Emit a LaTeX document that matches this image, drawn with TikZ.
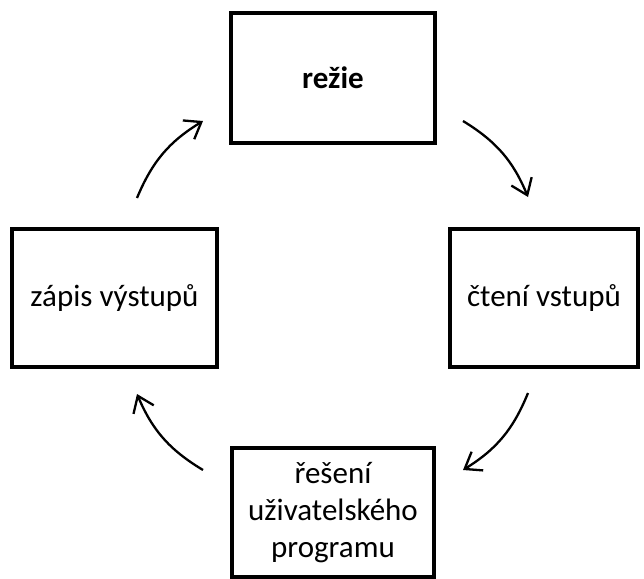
\documentclass[tikz,border=0pt]{standalone}
\usepackage{fontspec}
\setmainfont{Carlito}
\usetikzlibrary{arrows.meta,positioning}

\begin{document}
\begin{tikzpicture}[x=1pt, y=-1pt,
  stage/.style={draw, line width=4pt, align=center, inner sep=0pt,
                font=\fontsize{31}{37}\selectfont},
  cyc/.style={-{Straight Barb[length=15pt, width=22pt, line width=2.3pt]},
              line width=2.3pt}
]
\useasboundingbox (0,0) rectangle (644,578);

% the four stages of the loop
\node[stage, minimum width=204pt, minimum height=130pt, font=\fontsize{31}{37}\selectfont\bfseries]
  (rez) at (333,78) {režie};
\node[stage, minimum width=188pt, minimum height=138pt] (cte) at (544,298) {čtení vstupů};
\node[stage, minimum width=202pt, minimum height=129pt] (res) at (333,512.5)
  {řešení\\uživatelského\\programu};
\node[stage, minimum width=205pt, minimum height=138pt] (zap) at (114.5,298) {zápis výstupů};

% arrow ends
\coordinate (a1) at (137,198);  \coordinate (b1) at (203,121);
\coordinate (a2) at (463,121);  \coordinate (b2) at (528,197);
\coordinate (a3) at (528,393);  \coordinate (b3) at (463,470);
\coordinate (a4) at (203,470);  \coordinate (b4) at (137,394);

\draw[cyc] (a1) to[bend left=18] (b1);
\draw[cyc] (a2) to[bend left=18] (b2);
\draw[cyc] (a3) to[bend left=18] (b3);
\draw[cyc] (a4) to[bend left=18] (b4);
\end{tikzpicture}
\end{document}
